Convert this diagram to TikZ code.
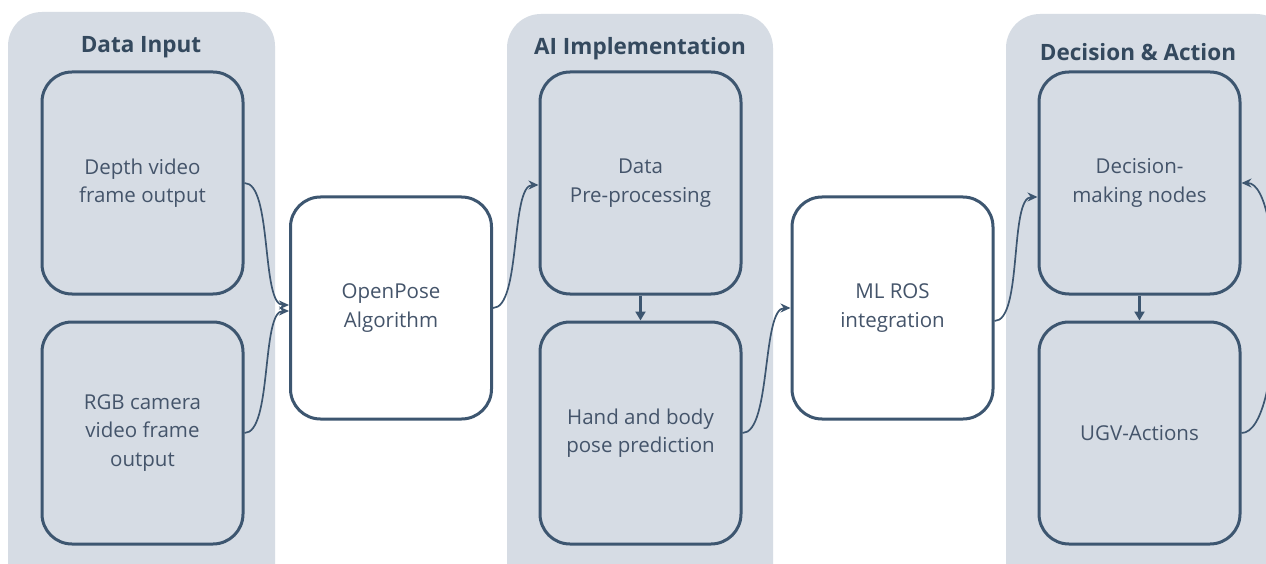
\documentclass[tikz,border=0pt]{standalone}
\usepackage{fontspec}
\setmainfont{Open Sans}
\usetikzlibrary{arrows.meta,calc}
\definecolor{panelfill}{HTML}{D6DCE4}
\definecolor{edge}{HTML}{3D5670}
\definecolor{txt}{HTML}{44546A}
\definecolor{ttl}{HTML}{34495E}
\tikzset{
  panel/.style={fill=panelfill, draw=none, rounded corners=34pt},
  stagebox/.style={draw=edge, line width=3pt, rounded corners=30pt, minimum width=201pt, minimum height=222pt, align=center, text=txt, font=\fontsize{20.5}{28.5}\selectfont, inner sep=0pt},
  ttlnode/.style={text=ttl, font=\fontsize{22.5}{26}\selectfont\bfseries, inner sep=0pt},
  conn/.style={draw=edge, line width=1.7pt, -{Stealth[length=10pt,width=9pt]}},
  vconn/.style={draw=edge, line width=2.2pt, -{Triangle[length=9pt,width=10pt]}},
  curve/.style={out=0,in=180,looseness=0.55}
}
\begin{document}
\begin{tikzpicture}[x=1pt,y=-1pt]
\clip (0,0) rectangle (1266,564);
\fill[white] (0,0) rectangle (1266,564);
% panels
\path[panel] (8,12) rectangle (275,600);
\path[panel] (507,14) rectangle (773,600);
\path[panel] (1006,14) rectangle (1290,600);
\node[ttlnode] (t1) at (141,47) {Data Input};
\node[ttlnode] (t2) at (640,49) {AI Implementation};
\node[ttlnode] (t3) at (1138,52) {Decision \& Action};
% boxes
\node[stagebox] (depth) at (142.5,183) {Depth video\\frame output};
\node[stagebox] (rgb) at (142.5,433) {RGB camera\\video frame\\output};
\node[stagebox, fill=white] (op) at (391,308) {OpenPose\\Algorithm};
\node[stagebox] (pre) at (640.5,183) {Data\\Pre-processing};
\node[stagebox] (hand) at (640.5,433) {Hand and body\\pose prediction};
\node[stagebox, fill=white] (ml) at (892.5,308) {ML ROS\\integration};
\node[stagebox] (dec) at (1139.5,183) {Decision-\\making nodes};
\node[stagebox] (ugv) at (1139.5,433) {UGV-Actions};
% connectors
\draw[conn] (depth.east) to[curve] ($(op.west)+(0,-3)$);
\draw[conn] (rgb.east) to[curve] ($(op.west)+(0,3)$);
\draw[conn] (op.east) to[curve] ($(pre.west)+(0,2)$);
\draw[vconn] (pre.south) -- (hand.north);
\draw[conn] (hand.east) to[curve] (ml.west);
\draw[conn] ($(ml.east)+(0,13)$) to[curve] ($(dec.west)+(0,14)$);
\draw[vconn] (dec.south) -- (ugv.north);
\draw[conn] (ugv.east) to[out=0,in=0,looseness=0.45] (dec.east);
\end{tikzpicture}
\end{document}
